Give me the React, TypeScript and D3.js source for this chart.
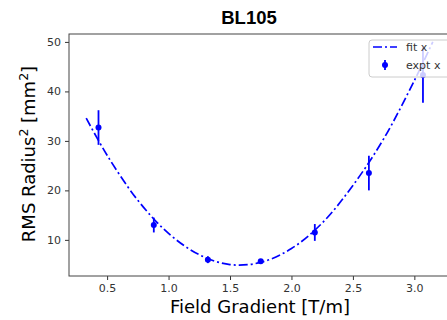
import React, { useEffect, useRef } from "react";
import * as d3 from "d3";

// measured points (field gradient, rms radius^2, error)
const exptX = [0.43, 0.88, 1.32, 1.75, 2.19, 2.63, 3.07];
const exptY = [32.7, 13.0, 6.0, 5.7, 11.5, 23.5, 43.3];
const exptErr = [3.5, 1.5, 0.7, 0.4, 1.7, 3.5, 5.6];

// fit curve
const fitX = [0.33, 0.5, 0.75, 1.0, 1.25, 1.5, 1.75, 2.0, 2.25, 2.5, 2.75, 3.0, 3.15];
const fitY = [34.6, 27.1, 18.0, 11.3, 7.0, 5.0, 5.45, 8.25, 13.4, 21.0, 30.4, 42.2, 50.0];

const xTicks = [0.5, 1.0, 1.5, 2.0, 2.5, 3.0];
const yTicks = [10, 20, 30, 40, 50];

const width = 447;
const height = 320;
const margin = { top: 34, right: -3, bottom: 44, left: 69 };
const font = "DejaVu Sans, sans-serif";

export default function App() {
    const svgRef = useRef<SVGSVGElement | null>(null);

    useEffect(() => {
        if (!svgRef.current) return;
        const svg = d3.select(svgRef.current);
        svg.selectAll("*").remove();

        const x = d3.scaleLinear()
            .domain([0.19, 3.29])
            .range([margin.left, width - margin.right]);
        const y = d3.scaleLinear()
            .domain([2.7, 51.6])
            .range([height - margin.bottom, margin.top]);

        // title
        svg.append("text")
            .attr("x", 249)
            .attr("y", 24)
            .attr("text-anchor", "middle")
            .attr("font-family", "Liberation Sans, Arial, sans-serif")
            .attr("font-size", 18.5)
            .attr("font-weight", "bold")
            .text("BL105");

        // axes
        const xAxis = svg.append("g")
            .attr("transform", `translate(0,${height - margin.bottom})`)
            .call(d3.axisBottom(x).tickValues(xTicks).tickFormat(d3.format(".1f")).tickSizeOuter(0).tickSize(4).tickPadding(4));
        const yAxis = svg.append("g")
            .attr("transform", `translate(${margin.left},0)`)
            .call(d3.axisLeft(y).tickValues(yTicks).tickSizeOuter(0).tickSize(4).tickPadding(4));

        [xAxis, yAxis].forEach(ax => {
            ax.select(".domain").remove();
            ax.selectAll("line").attr("stroke", "#333");
            ax.selectAll("text")
                .attr("font-family", font)
                .attr("font-size", 11)
                .attr("fill", "#333");
        });

        // spines
        svg.append("rect")
            .attr("x", margin.left)
            .attr("y", margin.top)
            .attr("width", width - margin.right - margin.left)
            .attr("height", height - margin.bottom - margin.top)
            .attr("fill", "none")
            .attr("stroke", "#444")
            .attr("stroke-width", 1);

        // axis labels
        svg.append("text")
            .attr("x", 260)
            .attr("y", 313)
            .attr("text-anchor", "middle")
            .attr("font-family", font)
            .attr("font-size", 18)
            .text("Field Gradient [T/m]");

        const yl = svg.append("text")
            .attr("transform", `translate(35,154) rotate(-90)`)
            .attr("text-anchor", "middle")
            .attr("font-family", font)
            .attr("font-size", 18);
        yl.append("tspan").text("RMS Radius");
        yl.append("tspan").attr("dy", -7).attr("font-size", 12.5).text("2");
        yl.append("tspan").attr("dy", 7).text(" [mm");
        yl.append("tspan").attr("dy", -7).attr("font-size", 12.5).text("2");
        yl.append("tspan").attr("dy", 7).text("]");

        // fit curve
        const line = d3.line<number>()
            .x((_, i) => x(fitX[i]))
            .y(d => y(d))
            .curve(d3.curveCatmullRom);
        svg.append("path")
            .datum(fitY)
            .attr("d", line)
            .attr("fill", "none")
            .attr("stroke", "blue")
            .attr("stroke-width", 1.7)
            .attr("stroke-dasharray", "9,3,2,3");

        // error bars + points
        const pts = svg.append("g");
        exptX.forEach((xv, i) => {
            pts.append("line")
                .attr("x1", x(xv)).attr("x2", x(xv))
                .attr("y1", y(exptY[i] - exptErr[i]))
                .attr("y2", y(exptY[i] + exptErr[i]))
                .attr("stroke", "blue")
                .attr("stroke-width", 1.8);
            pts.append("circle")
                .attr("cx", x(xv))
                .attr("cy", y(exptY[i]))
                .attr("r", 3)
                .attr("fill", "blue");
        });

        // legend
        const lg = svg.append("g").attr("transform", "translate(369,40)");
        lg.append("rect")
            .attr("width", 82)
            .attr("height", 37)
            .attr("rx", 3)
            .attr("fill", "white")
            .attr("fill-opacity", 0.8)
            .attr("stroke", "#ccc")
            .attr("stroke-width", 1);
        lg.append("line")
            .attr("x1", 4).attr("x2", 28)
            .attr("y1", 7).attr("y2", 7)
            .attr("stroke", "blue")
            .attr("stroke-width", 1.7)
            .attr("stroke-dasharray", "9,3,2,3");
        lg.append("line")
            .attr("x1", 16).attr("x2", 16)
            .attr("y1", 20).attr("y2", 30)
            .attr("stroke", "blue")
            .attr("stroke-width", 1.8);
        lg.append("circle")
            .attr("cx", 16).attr("cy", 25).attr("r", 3).attr("fill", "blue");
        ["fit x", "expt x"].forEach((t, i) => {
            lg.append("text")
                .attr("x", 37)
                .attr("y", 11 + i * 18)
                .attr("font-family", font)
                .attr("font-size", 11)
                .attr("fill", "#333")
                .text(t);
        });
    }, []);

    return (
        <div style={{ position: "fixed", left: 0, top: 0 }}>
            <svg ref={svgRef} width={width} height={height} style={{ display: "block", background: "white" }} />
        </div>
    );
}
